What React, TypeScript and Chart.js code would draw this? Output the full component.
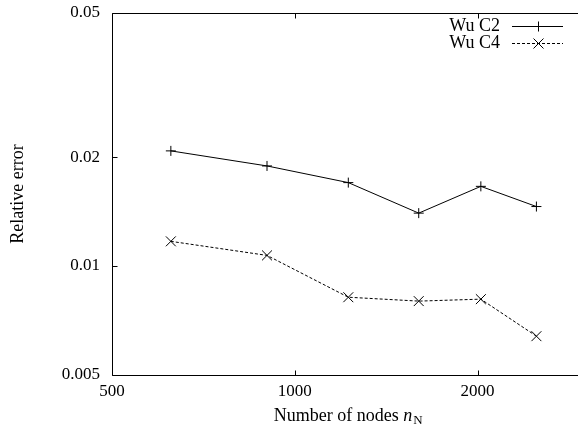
import React, { useEffect, useRef } from "react";
import { Chart, registerables } from "chart.js";

Chart.register(...registerables);

const nodes = [625, 900, 1225, 1600, 2025, 2500];
const wuC2 = [0.0208, 0.0189, 0.017, 0.014, 0.0166, 0.0146];
const wuC4 = [0.0117, 0.0107, 0.0082, 0.008, 0.0081, 0.0064];
const seriesLabels = ["Wu C2", "Wu C4"];
const xTicks = [500, 1000, 2000];
const yTicks = [0.005, 0.01, 0.02, 0.05];
const xRange = [500, 3000];
const yRange = [0.005, 0.05];
const yTitle = "Relative error";
const xTitleParts = ["Number of nodes ", "n", "N"];

const FONT = '"Liberation Serif", "Times New Roman", serif';

const drawMarker = (ctx: CanvasRenderingContext2D, style: string, x: number, y: number) => {
  ctx.beginPath();
  if (style === "cross") {
    ctx.moveTo(x - 5, y);
    ctx.lineTo(x + 5, y);
    ctx.moveTo(x, y - 5);
    ctx.lineTo(x, y + 5);
  } else {
    ctx.moveTo(x - 5, y - 5);
    ctx.lineTo(x + 5, y + 5);
    ctx.moveTo(x - 5, y + 5);
    ctx.lineTo(x + 5, y - 5);
  }
  ctx.setLineDash([]);
  ctx.stroke();
};

const framePlugin = {
  id: "gnuFrame",
  afterDatasetsDraw(chart: any) {
    const { ctx, chartArea: a, scales } = chart;
    ctx.save();
    ctx.strokeStyle = "#000";
    ctx.lineWidth = 1;
    const L = Math.round(a.left) + 0.5;
    const R = Math.round(a.right) + 0.5;
    const T = Math.round(a.top) + 0.5;
    const B = Math.round(a.bottom) + 0.5;
    ctx.beginPath();
    ctx.rect(L, T, R - L, B - T);
    const tl = 5;
    scales.x.ticks.forEach((t: any) => {
      const px = Math.round(scales.x.getPixelForValue(t.value)) + 0.5;
      ctx.moveTo(px, B);
      ctx.lineTo(px, B - tl);
      ctx.moveTo(px, T);
      ctx.lineTo(px, T + tl);
    });
    scales.y.ticks.forEach((t: any) => {
      const py = Math.round(scales.y.getPixelForValue(t.value)) + 0.5;
      ctx.moveTo(L, py);
      ctx.lineTo(L + tl, py);
      ctx.moveTo(R, py);
      ctx.lineTo(R - tl, py);
    });
    ctx.stroke();

    // legend (gnuplot style: text left of sample)
    ctx.font = `18px ${FONT}`;
    ctx.fillStyle = "#000";
    ctx.textAlign = "right";
    ctx.textBaseline = "middle";
    chart.data.datasets.forEach((ds: any, i: number) => {
      const y = Math.round(a.top + 13 + i * 17) + 0.5;
      ctx.fillText(ds.label, a.right - 84.5, y);
      ctx.beginPath();
      ctx.setLineDash(ds.borderDash || []);
      ctx.moveTo(a.right - 72.5, y);
      ctx.lineTo(a.right - 21.5, y);
      ctx.stroke();
      drawMarker(ctx, ds.pointStyle, Math.round(a.right - 47) + 0.5, y);
    });

    // x title with italic n and subscript N
    const f1 = `18px ${FONT}`;
    const f2 = `italic 18px ${FONT}`;
    const f3 = `13px ${FONT}`;
    ctx.font = f1;
    const w1 = ctx.measureText(xTitleParts[0]).width;
    ctx.font = f2;
    const w2 = ctx.measureText(xTitleParts[1]).width;
    ctx.font = f3;
    const w3 = ctx.measureText(xTitleParts[2]).width;
    const total = w1 + w2 + w3 + 1;
    let x = (a.left + a.right) / 2 - total / 2;
    const ty = chart.height - 5;
    ctx.textAlign = "left";
    ctx.textBaseline = "alphabetic";
    ctx.font = f1;
    ctx.fillText(xTitleParts[0], x, ty);
    x += w1;
    ctx.font = f2;
    ctx.fillText(xTitleParts[1], x, ty);
    x += w2 + 1;
    ctx.font = f3;
    ctx.fillText(xTitleParts[2], x, ty + 3);
    ctx.restore();
  },
};

export default function App() {
  const ref = useRef<HTMLCanvasElement | null>(null);

  useEffect(() => {
    if (!ref.current) return;
    const chart = new Chart(ref.current, {
      type: "line",
      data: {
        datasets: [
          {
            label: seriesLabels[0],
            data: nodes.map((n, i) => ({ x: n, y: wuC2[i] })),
            borderColor: "#000",
            borderWidth: 1,
            pointStyle: "cross",
            pointRadius: 5,
            pointBorderColor: "#000",
            pointBorderWidth: 1,
            fill: false,
          },
          {
            label: seriesLabels[1],
            data: nodes.map((n, i) => ({ x: n, y: wuC4[i] })),
            borderColor: "#000",
            borderWidth: 1,
            borderDash: [3, 2],
            pointStyle: "crossRot",
            pointRadius: 7,
            pointBorderColor: "#000",
            pointBorderWidth: 1,
            fill: false,
          },
        ],
      },
      options: {
        responsive: false,
        animation: false,
        devicePixelRatio: 1,
        layout: { padding: { top: 13, right: 15.5, left: 0, bottom: 0 } },
        plugins: { legend: { display: false }, tooltip: { enabled: false } },
        scales: {
          x: {
            type: "logarithmic",
            min: xRange[0],
            max: xRange[1],
            grid: { display: false, drawTicks: false },
            border: { display: false },
            afterBuildTicks: (s: any) => {
              s.ticks = xTicks.map((v) => ({ value: v }));
            },
            afterFit: (s: any) => {
              s.height = 51;
              s.paddingLeft = 0;
              s.paddingRight = 0;
            },
            ticks: {
              color: "#000",
              font: { family: FONT, size: 17 },
              padding: 6,
              maxRotation: 0,
              autoSkip: false,
              callback: (v: any) => String(v),
            },
          },
          y: {
            type: "logarithmic",
            min: yRange[0],
            max: yRange[1],
            grid: { display: false, drawTicks: false },
            border: { display: false },
            afterBuildTicks: (s: any) => {
              s.ticks = yTicks.map((v) => ({ value: v }));
            },
            afterFit: (s: any) => {
              s.width = 112;
              s.paddingTop = 0;
              s.paddingBottom = 0;
            },
            title: {
              display: true,
              text: yTitle,
              color: "#000",
              font: { family: FONT, size: 18 },
              padding: { top: 7, bottom: 0 },
            },
            ticks: {
              color: "#000",
              font: { family: FONT, size: 17 },
              padding: 12,
              autoSkip: false,
              callback: (v: any) => String(v),
            },
          },
        },
      },
      plugins: [framePlugin],
    });
    return () => chart.destroy();
  }, []);

  return (
    <div
      style={{
        position: "fixed",
        left: 0,
        top: 0,
        width: 578,
        height: 426,
        overflow: "hidden",
        background: "#fff",
      }}
    >
      <canvas ref={ref} width={600} height={426} style={{ display: "block" }} />
    </div>
  );
}
